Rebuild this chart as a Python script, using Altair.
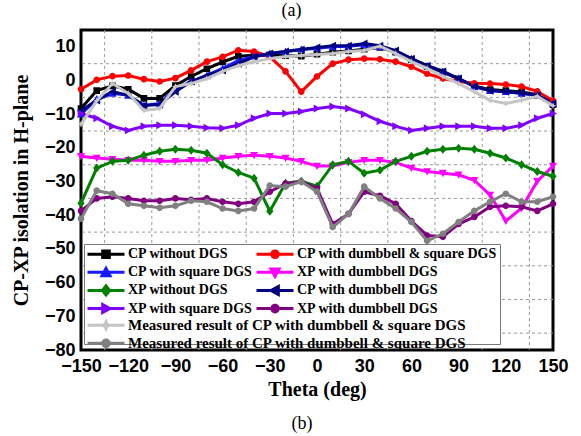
import altair as alt
import pandas as pd

theta = list(range(-150, 151, 10))

cp_without = [-8.3, -3.0, -1.6, -2.6, -5.3, -5.3, -1.5, 1.2, 3.5, 5.5, 7.2, 7.5, 7.6, 7.4, 7.2, 7.8,
              8.4, 8.8, 9.3, 9.8, 8.4, 6.2, 4.2, 2.5, 0.5, -1.6, -2.7, -3.0, -3.4, -4.2, -7.2]
cp_dumb_sq = [-2.6, 0.2, 1.3, 1.5, 0.4, -0.3, 0.7, 3.0, 5.6, 7.0, 9.0, 8.6, 7.1, 2.7, -3.3, 1.2,
              5.0, 6.2, 6.5, 6.3, 5.6, 4.1, 2.0, 0.6, -0.3, -0.8, -0.9, -1.2, -1.8, -3.2, -6.0]
cp_square = [-10.0, -5.5, -3.8, -4.4, -7.4, -6.8, -2.5, -0.3, 1.5, 3.6, 5.9, 7.2, 8.0, 8.6, 9.2, 9.6,
             10.0, 10.2, 10.6, 10.0, 8.7, 6.5, 4.4, 2.7, 0.6, -1.8, -3.0, -3.3, -3.8, -4.4, -6.8]
xp_dumb = [-22.5, -23.0, -23.4, -23.7, -23.7, -24.0, -24.0, -23.7, -23.7, -23.0, -22.5, -22.2, -22.5, -23.0, -24.0, -25.4,
           -25.4, -24.3, -23.7, -23.7, -24.3, -26.0, -27.0, -27.5, -28.0, -29.6, -34.0, -41.7, -37.9, -29.9, -25.4]
xp_without = [-36.4, -26.0, -24.0, -23.7, -22.2, -21.0, -20.4, -20.7, -21.6, -25.0, -27.3, -29.0, -38.8, -30.5, -29.9, -31.4,
              -25.0, -24.0, -27.5, -26.6, -24.0, -22.5, -21.0, -20.4, -20.1, -20.4, -21.6, -23.0, -25.0, -27.0, -28.4]
cp_dumb = [-9.0, -5.9, -3.3, -4.4, -7.4, -7.1, -3.3, -0.3, 1.5, 3.0, 5.0, 7.0, 8.0, 8.6, 9.2, 9.8,
           10.3, 10.3, 11.0, 10.3, 8.9, 6.5, 4.4, 2.7, 0.6, -1.8, -3.0, -3.3, -3.8, -4.4, -6.8]
xp_square = [-9.8, -11.2, -13.6, -14.8, -13.6, -13.3, -13.3, -13.6, -14.0, -14.2, -13.3, -11.2, -9.8, -9.8, -9.2, -8.3,
             -7.7, -8.3, -10.0, -12.1, -13.6, -14.8, -14.2, -13.6, -13.6, -13.6, -14.2, -14.2, -13.3, -11.2, -9.8]
xp_dumb2 = [-38.7, -35.0, -34.5, -35.0, -35.7, -35.7, -35.0, -35.4, -35.0, -36.0, -36.6, -36.0, -33.0, -30.6, -30.0, -32.0,
            -42.6, -39.6, -33.0, -34.2, -36.6, -41.7, -46.0, -46.4, -42.6, -40.5, -37.5, -37.2, -37.5, -38.7, -36.6]
meas_cp = [-13.0, -6.0, -0.9, -3.8, -8.9, -8.3, -1.8, -0.9, 0.6, 2.7, 4.4, 5.6, 6.5, 7.1, 7.4, 7.7,
           8.0, 8.6, 8.9, 10.2, 8.0, 5.6, 3.6, 1.2, -0.9, -3.3, -5.9, -6.8, -5.9, -4.7, -7.5]
meas_xp = [-41.0, -32.7, -33.6, -36.6, -37.2, -37.8, -37.2, -35.7, -36.0, -38.0, -38.7, -38.0, -31.2, -31.5, -30.0, -33.0,
           -43.5, -39.6, -31.5, -35.0, -38.0, -42.0, -47.6, -45.5, -42.0, -38.7, -36.0, -33.6, -36.0, -36.0, -34.5]

sim_names = ["CP without DGS", "CP with dumbbell & square DGS", "CP with square DGS", "XP with dumbbell DGS",
             "XP without DGS", "CP with dumbbell DGS", "XP with square DGS", "XP with dumbbell DGS "]
sim_values = [cp_without, cp_dumb_sq, cp_square, xp_dumb, xp_without, cp_dumb, xp_square, xp_dumb2]
sim_colors = ["#000000", "#ff0000", "#1a1aff", "#ff00ff", "#008000", "#000080", "#8000ff", "#800080"]

meas_names = ["Measured result of CP with dumbbell & square DGS",
              "Measured result of CP with dumbbell & square DGS "]
meas_values = [meas_cp, meas_xp]
meas_colors = ["#c4c4c4", "#808080"]

x_ticks = list(range(-150, 151, 30))
y_ticks = list(range(-80, 11, 10))
x_grid = list(range(-135, 136, 30))
y_grid = list(range(-75, 6, 10))

LINE = "M-1,0H1"
m = 0.18
SQUARE = f"M{-m},{-m}H{m}V{m}H{-m}Z"
CIRCLE = f"M{-m},0A{m},{m} 0 1,0 {m},0A{m},{m} 0 1,0 {-m},0Z"
TRI_UP = f"M0,{-m*1.2}L{m*1.2},{m}L{-m*1.2},{m}Z"
TRI_DOWN = f"M0,{m*1.2}L{m*1.2},{-m}L{-m*1.2},{-m}Z"
DIAMOND = f"M0,{-m*1.35}L{m*1.1},0L0,{m*1.35}L{-m*1.1},0Z"
TRI_LEFT = f"M{-m*1.2},0L{m},{-m*1.2}L{m},{m*1.2}Z"
TRI_RIGHT = f"M{m*1.2},0L{-m},{-m*1.2}L{-m},{m*1.2}Z"
STAR = f"M0,{-m}L{m*0.3},{-m*0.3}L{m},0L{m*0.3},{m*0.3}L0,{m}L{-m*0.3},{m*0.3}L{-m},0L{-m*0.3},{-m*0.3}Z"
sim_shapes = [LINE + s for s in [SQUARE, CIRCLE, TRI_UP, TRI_DOWN, DIAMOND, TRI_LEFT, TRI_RIGHT, CIRCLE]]
meas_shapes = [LINE + s for s in [STAR, CIRCLE]]


def long_df(names, values):
    rows = []
    for n, vals in zip(names, values):
        for t, v in zip(theta, vals):
            rows.append({"theta": t, "value": v, "series": n})
    return pd.DataFrame(rows)


df_sim = long_df(sim_names, sim_values)
df_meas = long_df(meas_names, meas_values)

SYM = 1369
common_leg = dict(
    labelFont="Liberation Serif", labelFontWeight="bold",
    labelColor="black", labelLimit=420, symbolSize=SYM, symbolStrokeWidth=3, clipHeight=16.5,
    rowPadding=1.1, columnPadding=2, labelOffset=2, padding=2, symbolOpacity=1,
)
leg1 = alt.Legend(orient="none", legendX=3, legendY=214, columns=2, direction="horizontal", gridAlign="none",
                  labelFontSize=14, title=" ", titleOrient="bottom", titleFontSize=22, titlePadding=4,
                  strokeColor="#7a7a7a", fillColor="white", **common_leg)
leg2 = alt.Legend(orient="none", legendX=3, legendY=285, columns=1, direction="vertical", title=None,
                  labelFontSize=15, **common_leg)

xs = alt.Scale(domain=[-150, 150], nice=False, zero=False)
ys = alt.Scale(domain=[-80, 15], nice=False, zero=False)
xaxis = alt.Axis(values=x_ticks, grid=False, ticks=False, domain=False, labelFont="Liberation Sans",
                 labelFontWeight="bold", labelFontSize=18, labelColor="black", labelPadding=7,
                 labelOverlap=False, labelFlush=False,
                 title="Theta (deg)", titleFont="Liberation Serif", titleFontSize=20,
                 titleFontWeight="bold", titleColor="black", titlePadding=4)
yaxis = alt.Axis(values=y_ticks, grid=False, ticks=False, domain=False, labelFont="Liberation Sans",
                 labelFontWeight="bold", labelFontSize=18, labelColor="black", labelPadding=6,
                 labelOverlap=False, labelFlush=False,
                 title="CP-XP isolation in H-plane", titleFont="Liberation Serif", titleFontSize=20,
                 titleFontWeight="bold", titleColor="black", titlePadding=13)


def series_layers(df, names, colors, shapes, leg):
    base = alt.Chart(df)
    line = base.mark_line(strokeWidth=3).encode(
        x=alt.X("theta:Q", scale=xs, axis=xaxis),
        y=alt.Y("value:Q", scale=ys, axis=yaxis),
        stroke=alt.Stroke("series:N", scale=alt.Scale(domain=names, range=colors), legend=leg),
    )
    pts = base.mark_point(filled=True, size=SYM, opacity=1).encode(
        x=alt.X("theta:Q", scale=xs, axis=xaxis),
        y=alt.Y("value:Q", scale=ys, axis=yaxis),
        fill=alt.Fill("series:N", scale=alt.Scale(domain=names, range=colors), legend=leg),
        shape=alt.Shape("series:N", scale=alt.Scale(domain=names, range=shapes), legend=leg),
    )
    return alt.layer(line, pts)


gx = alt.Chart(pd.DataFrame({"g": x_grid})).mark_rule(
    color="#9a9a9a", strokeWidth=1, strokeDash=[3, 3]).encode(x=alt.X("g:Q", scale=xs, axis=xaxis))
gy = alt.Chart(pd.DataFrame({"g": y_grid})).mark_rule(
    color="#9a9a9a", strokeWidth=1, strokeDash=[3, 3]).encode(y=alt.Y("g:Q", scale=ys, axis=yaxis))

sim = series_layers(df_sim, sim_names, sim_colors, sim_shapes, leg1)
meas = series_layers(df_meas, meas_names, meas_colors, meas_shapes, leg2)

inner = alt.layer(gx, gy, sim, meas).resolve_scale(
    stroke="independent", fill="independent", shape="independent"
).properties(
    width=472, height=320,
    title=alt.TitleParams("(b)", orient="bottom", anchor="middle", font="Liberation Serif", fontSize=18,
                          fontWeight="normal", color="black", offset=16, dx=-15),
)

chart = alt.vconcat(inner, title=alt.TitleParams(
    "(a)", anchor="middle", font="Liberation Serif", fontSize=18, fontWeight="normal", color="black",
    offset=8)
).properties(
    padding={"left": 9, "top": 2, "right": 0, "bottom": 0}
).configure_view(stroke="black", strokeWidth=3).configure_legend(strokeWidth=1)

chart.save("out.html", embed_options={"renderer": "svg", "actions": False})
